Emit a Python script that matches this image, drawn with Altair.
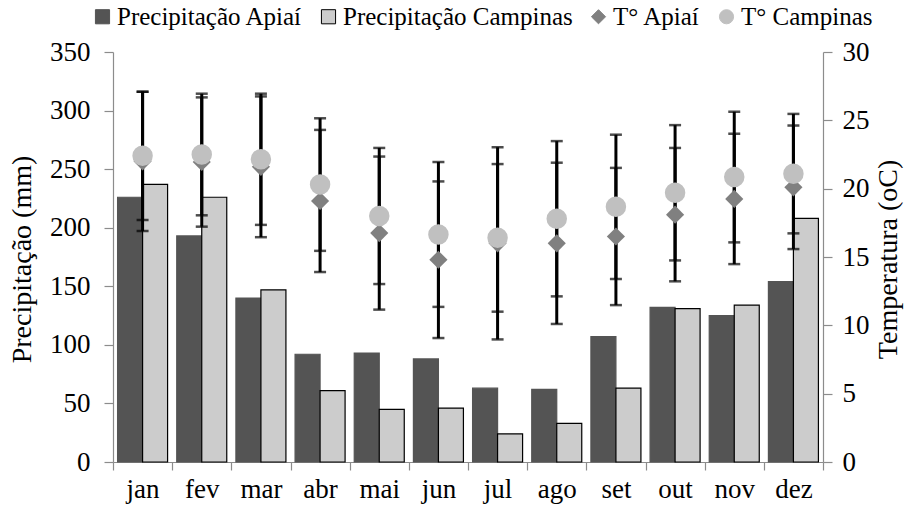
import altair as alt
import pandas as pd

months = ["jan", "fev", "mar", "abr", "mai", "jun", "jul", "ago", "set", "out", "nov", "dez"]
prec_apiai = [226, 193, 140, 92, 93, 88, 63, 62, 107, 132, 125, 154]
prec_campinas = [237, 226, 147, 61, 45, 46, 24, 33, 63, 131, 134, 208]
temp_apiai = [22.0, 21.95, 21.6, 19.1, 16.75, 14.8, 16.0, 16.0, 16.5, 18.1, 19.25, 20.1]
sd_apiai = [5.1, 4.73, 5.15, 5.2, 5.6, 5.73, 7.03, 5.9, 5.02, 4.88, 4.77, 4.52]
temp_campinas = [22.4, 22.5, 22.15, 20.3, 18.0, 16.65, 16.4, 17.8, 18.67, 19.7, 20.85, 21.1]
sd_campinas = [4.7, 4.45, 4.8, 4.85, 4.98, 5.3, 5.4, 5.68, 5.28, 4.95, 4.78, 4.37]

series = ["Precipitação Apiaí", "Precipitação Campinas", "T° Apiaí", "T° Campinas"]
fills = ["#545454", "#cccccc", "#808080", "#c0c0c0"]
strokes = ["#545454", "#000000", "#808080", "#c0c0c0"]
shapes = ["square", "square", "diamond", "circle"]

FONT = "Liberation Serif, Times New Roman, serif"

bars_df = pd.DataFrame(
    [{"mes": m, "serie": series[0], "valor": v} for m, v in zip(months, prec_apiai)]
    + [{"mes": m, "serie": series[1], "valor": v} for m, v in zip(months, prec_campinas)]
)
temp_df = pd.DataFrame(
    [{"mes": m, "serie": series[2], "temp": t, "sd": s} for m, t, s in zip(months, temp_apiai, sd_apiai)]
    + [{"mes": m, "serie": series[3], "temp": t, "sd": s} for m, t, s in zip(months, temp_campinas, sd_campinas)]
)

legend = alt.Legend(title=None)

x_enc = alt.X(
    "mes:N", sort=months,
    scale=alt.Scale(paddingInner=0, paddingOuter=0),
    axis=alt.Axis(title=None, tickBand="extent", labelAngle=0, labelFontSize=27,
                  labelPadding=6, tickSize=8),
)
fill_enc = alt.Fill("serie:N", scale=alt.Scale(domain=series, range=fills), legend=legend)
stroke_enc = alt.Stroke("serie:N", scale=alt.Scale(domain=series, range=strokes), legend=legend)
shape_enc = alt.Shape("serie:N", scale=alt.Scale(domain=series, range=shapes), legend=legend)

y_left_axis = alt.Axis(values=list(range(0, 351, 50)), title="Precipitação (mm)", orient="left",
                       tickSize=9, labelPadding=14, titleAngle=270, titleX=-91, titleY=207,
                       titleBaseline="middle", titleAlign="center")
y_right_axis = alt.Axis(values=list(range(0, 31, 5)), title="Temperatura (oC)", orient="right",
                        tickSize=9, labelPadding=10, titleAngle=270, titleX=65, titleY=207,
                        titleBaseline="middle", titleAlign="center")
y_temp_scale = alt.Scale(domain=[0, 30])

bars = alt.Chart(bars_df).mark_bar(strokeWidth=1.2).encode(
    x=x_enc,
    xOffset=alt.XOffset("serie:N", sort=series[:2],
                        scale=alt.Scale(paddingOuter=0.183, paddingInner=0)),
    y=alt.Y("valor:Q", scale=alt.Scale(domain=[0, 350]), axis=y_left_axis),
    fill=fill_enc,
    stroke=stroke_enc,
)

base_t = alt.Chart(temp_df).transform_calculate(
    lo="datum.temp - datum.sd", hi="datum.temp + datum.sd"
)

err = base_t.mark_rule(color="black", strokeWidth=3).encode(
    x=x_enc,
    y=alt.Y("lo:Q", scale=y_temp_scale, axis=y_right_axis),
    y2="hi:Q",
)
cap_lo = base_t.mark_tick(color="black", size=12, thickness=2.5, orient="horizontal").encode(
    x=x_enc,
    y=alt.Y("lo:Q", scale=y_temp_scale, axis=y_right_axis),
)
cap_hi = base_t.mark_tick(color="black", size=12, thickness=2.5, orient="horizontal").encode(
    x=x_enc,
    y=alt.Y("hi:Q", scale=y_temp_scale, axis=y_right_axis),
)
diamonds = base_t.transform_filter(alt.datum.serie == series[2]).mark_point(
    filled=True, size=330, opacity=1, strokeWidth=0
).encode(
    x=x_enc,
    y=alt.Y("temp:Q", scale=y_temp_scale, axis=y_right_axis),
    fill=fill_enc,
    shape=shape_enc,
)
circles = base_t.transform_filter(alt.datum.serie == series[3]).mark_point(
    filled=True, size=420, opacity=1, strokeWidth=0
).encode(
    x=x_enc,
    y=alt.Y("temp:Q", scale=y_temp_scale, axis=y_right_axis),
    fill=fill_enc,
    shape=shape_enc,
)

temps = alt.layer(err, cap_lo, cap_hi, diamonds, circles)

chart = alt.layer(bars, temps).resolve_scale(y="independent").properties(
    width=710,
    height=410,
    autosize=alt.AutoSizeParams(type="none"),
    padding={"left": 113, "top": 52, "right": 88, "bottom": 46},
).configure_view(stroke=None).configure_axis(
    grid=False,
    domainColor="#8c8c8c",
    tickColor="#8c8c8c",
    labelColor="#000000",
    labelFont=FONT,
    labelFontSize=27,
    titleFont=FONT,
    titleFontSize=28,
    titleFontWeight="normal",
    titleColor="#000000",
    domainWidth=1.2,
    tickWidth=1.2,
).configure_legend(
    orient="none",
    legendX=-23,
    legendY=-48,
    direction="horizontal",
    labelFont=FONT,
    labelFontSize=25,
    labelColor="#000000",
    symbolSize=200,
    symbolStrokeWidth=1,
    labelOffset=2,
    columnPadding=13,
    labelLimit=500,
)

chart.save("out.html", embed_options={"renderer": "svg", "actions": False})
